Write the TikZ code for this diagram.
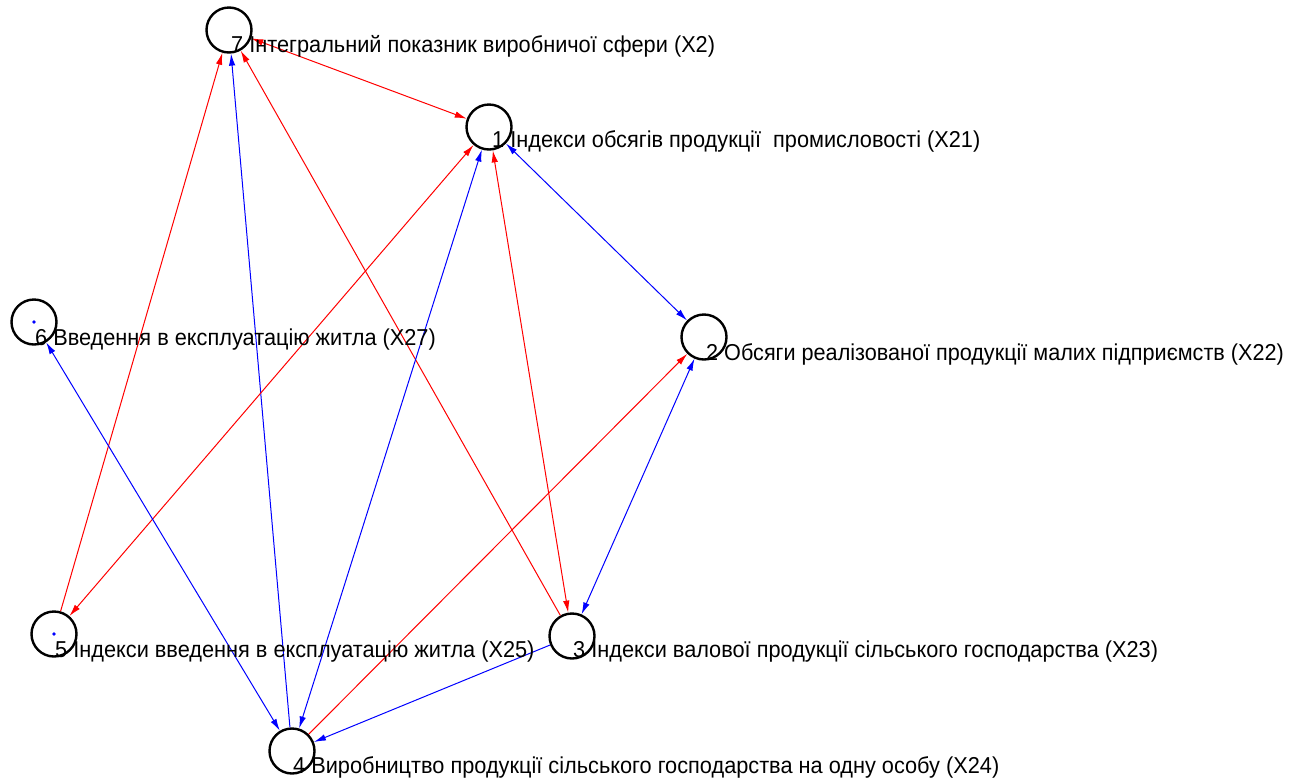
\documentclass[tikz,border=0pt]{standalone}
\usepackage{fontspec}
\setmainfont{Liberation Sans}
\usetikzlibrary{arrows.meta}
\begin{document}
\begin{tikzpicture}[x=1pt,y=-1pt,
  vert/.style={circle,draw=black,line width=2.4pt,minimum size=45pt,inner sep=0pt},
  lbl/.style={anchor=base west,inner sep=0pt,font=\fontsize{23}{23}\selectfont},
  rd/.style={draw=red,line width=1pt},
  bl/.style={draw=blue,line width=1pt},
  >={Latex[length=12pt,width=6.5pt]}
]
\useasboundingbox (0,0) rectangle (1297,780);
\node[vert] (n7) at (229,30) {};
\node[vert] (n1) at (489,127) {};
\node[vert] (n2) at (704,337) {};
\node[vert] (n6) at (34,322) {};
\node[vert] (n5) at (54,634) {};
\node[vert] (n3) at (572,636) {};
\node[vert] (n4) at (292,751) {};
\fill[blue] (n6.center) circle (1.8pt);
\fill[blue] (n5.center) circle (1.8pt);
\draw[rd,<->] (n7) -- (n1);
\draw[rd,<-] (n7) -- (n5);
\draw[bl,<-] (n7) -- (n4);
\draw[rd,<-] (n7) -- (n3);
\draw[rd,<->] (n1) -- (n5);
\draw[bl,<->] (n1) -- (n4);
\draw[rd,<->] (n1) -- (n3);
\draw[bl,<->] (n1) -- (n2);
\draw[rd,<-] (n2) -- (n4);
\draw[bl,<->] (n2) -- (n3);
\draw[bl,<->] (n6) -- (n4);
\draw[bl,->] (n3) -- (n4);
\node[lbl] (t7) at (231,52) {\scalebox{0.945}[1]{7 Інтегральний показник виробничої сфери (Х2)}};
\node[lbl] (t1) at (492,147) {\scalebox{0.945}[1]{1 Індекси обсягів продукції\ \ промисловості (Х21)}};
\node[lbl] (t2) at (706,360) {\scalebox{0.94}[1]{2 Обсяги реалізованої продукції малих підприємств (Х22)}};
\node[lbl] (t6) at (35,345) {\scalebox{0.945}[1]{6 Введення в експлуатацію житла (Х27)}};
\node[lbl] (t5) at (55,657) {\scalebox{0.945}[1]{5 Індекси введення в експлуатацію житла (Х25)}};
\node[lbl] (t3) at (573,657) {\scalebox{0.945}[1]{3 Індекси валової продукції сільського господарства (Х23)}};
\node[lbl] (t4) at (293,773) {\scalebox{0.945}[1]{4 Виробництво продукції сільського господарства на одну особу (Х24)}};
\end{tikzpicture}
\end{document}
